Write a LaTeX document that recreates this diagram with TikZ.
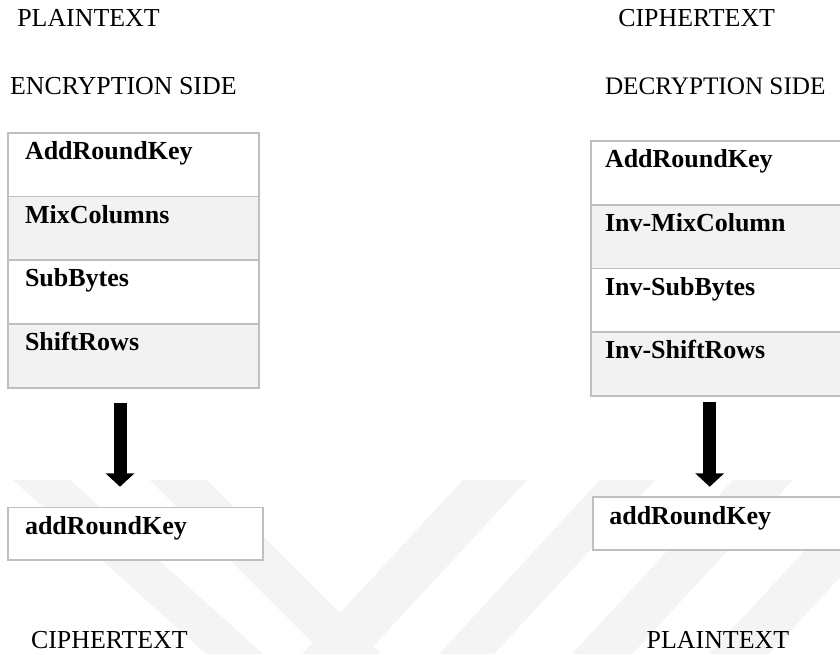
\documentclass[tikz,border=0pt]{standalone}
\usepackage{fontspec}
\setmainfont{Liberation Serif}
\usetikzlibrary{arrows.meta,calc}

\definecolor{cellborder}{HTML}{BFBFBF}
\definecolor{cellshade}{HTML}{F2F2F2}
\definecolor{wmgrey}{HTML}{F4F4F4}

\begin{document}
\begin{tikzpicture}[x=1pt,y=-1pt,
  every node/.style={inner sep=0pt, outer sep=0pt},
  title/.style={anchor=base west, font=\fontsize{25.9}{30}\selectfont},
  cell/.style={draw=cellborder, line width=1.8pt, rectangle, anchor=north west,
               minimum height=63.75pt},
  plaincell/.style={cell, fill=white},
  shadedcell/.style={cell, fill=cellshade},
  keybox/.style={draw=cellborder, line width=1.8pt, rectangle, anchor=north west,
                 fill=white, minimum height=52.5pt},
  celltext/.style={anchor=base west, font=\fontsize{26}{30}\selectfont\bfseries},
  bigarrow/.style={line width=13pt, -{Triangle[width=28pt,length=13.3pt]}},
  wmband/.style={fill=wmgrey, draw=none}]

\useasboundingbox (0,0) rectangle (840,654);
\clip (0,0) rectangle (840,654);
\fill[white] (0,0) rectangle (840,654);

% faint background bands
\fill[wmband] (13,480) -- (70,480) -- (263,654) -- (206,654) -- cycle;
\fill[wmband] (150,480) -- (207,480) -- (381,654) -- (324,654) -- cycle;
\fill[wmband] (463,480) -- (527,480) -- (366,654) -- (302,654) -- cycle;
\fill[wmband] (600,480) -- (655,480) -- (494,654) -- (439,654) -- cycle;
\fill[wmband] (733,480) -- (793,480) -- (632,654) -- (572,654) -- cycle;
\fill[wmband] (870,480) -- (930,480) -- (769,654) -- (709,654) -- cycle;

% headings
\node[title] (ptop)  at (17.3,26.7)  {PLAINTEXT};
\node[title] (enc)   at (10,94.3)    {ENCRYPTION SIDE};
\node[title] (ctop)  at (618.3,26.7) {CIPHERTEXT};
\node[title, font=\fontsize{25.2}{30}\selectfont] (dec) at (605,94.3) {DECRYPTION SIDE};
\node[title] (cbot)  at (31,648.3)   {CIPHERTEXT};
\node[title] (pbot)  at (646.7,648.3) {PLAINTEXT};

% encryption round
\node[plaincell,  minimum width=251pt] (e1) at (8.3,132.7)  {};
\node[shadedcell, minimum width=251pt] (e2) at (8.3,196.45) {};
\node[plaincell,  minimum width=251pt] (e3) at (8.3,260.2)  {};
\node[shadedcell, minimum width=251pt] (e4) at (8.3,323.95) {};
\node[celltext] (te1) at ($(e1.north west)+(16.7,26.7)$) {AddRoundKey};
\node[celltext] (te2) at ($(e2.north west)+(16.7,26.7)$) {MixColumns};
\node[celltext] (te3) at ($(e3.north west)+(16.7,26.7)$) {SubBytes};
\node[celltext] (te4) at ($(e4.north west)+(16.7,26.7)$) {ShiftRows};

\node[keybox, minimum width=255pt] (ek) at (8.3,507.5) {};
\node[celltext] (tek) at ($(ek.north west)+(16.7,26.7)$) {addRoundKey};

% decryption round
\node[plaincell,  minimum width=280pt] (d1) at (590.7,141)    {};
\node[shadedcell, minimum width=280pt] (d2) at (590.7,204.75) {};
\node[plaincell,  minimum width=280pt] (d3) at (590.7,268.5)  {};
\node[shadedcell, minimum width=280pt] (d4) at (590.7,332.25) {};
\node[celltext] (td1) at ($(d1.north west)+(14.3,26.7)$) {AddRoundKey};
\node[celltext] (td2) at ($(d2.north west)+(14.3,26.7)$) {Inv-MixColumn};
\node[celltext] (td3) at ($(d3.north west)+(14.3,26.7)$) {Inv-SubBytes};
\node[celltext] (td4) at ($(d4.north west)+(14.3,26.7)$) {Inv-ShiftRows};

\node[keybox, minimum width=280pt] (dk) at (593.3,497.3) {};
\node[celltext] (tdk) at ($(dk.north west)+(16,26.7)$) {addRoundKey};

% arrows from each round to its final key step
\coordinate (ea0) at (120,402.7);
\coordinate (ea1) at (120,486.7);
\coordinate (da0) at (709.7,401.7);
\coordinate (da1) at (709.7,486.7);
\draw[bigarrow] (ea0) -- (ea1);
\draw[bigarrow] (da0) -- (da1);
\end{tikzpicture}
\end{document}
